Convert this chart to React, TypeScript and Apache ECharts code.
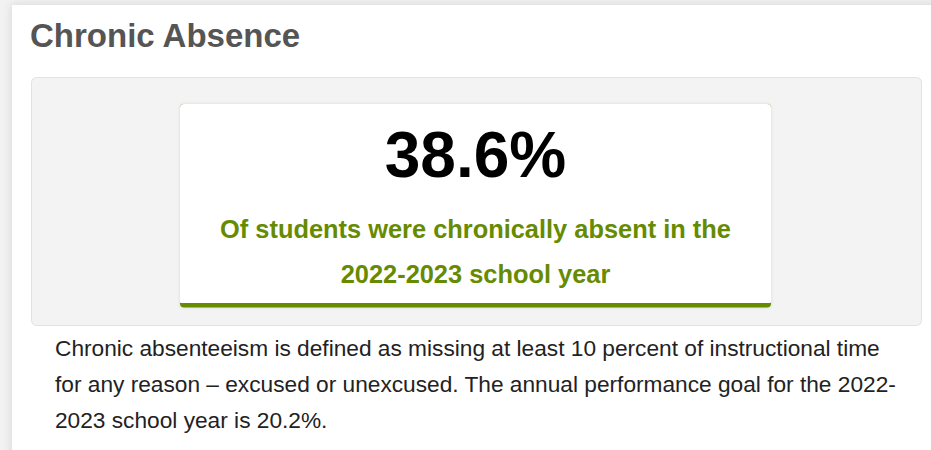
import React, { useEffect, useRef } from "react";
import * as echarts from "echarts";

const sectionTitle = ["Chronic Absence"];
const chronicAbsenceRate = [38.6];
const schoolYear = ["2022-2023"];
const annualGoal = [20.2];
const captionLines = [
  "Of students were chronically absent in the",
  `${schoolYear[0]} school year`,
];
const noteLines = [
  "Chronic absenteeism is defined as missing at least 10 percent of instructional time",
  `for any reason \u2013 excused or unexcused. The annual performance goal for the ${schoolYear[0].split("-")[0]}-`,
  `${schoolYear[0].split("-")[1]} school year is ${annualGoal[0].toFixed(1)}%.`,
];

const FONT = "'Liberation Sans', Arial, sans-serif";
const GREEN = "#668b00";

export default function App() {
  const ref = useRef<HTMLDivElement>(null);
  useEffect(() => {
    if (!ref.current) return;
    const chart = echarts.init(ref.current, null, { renderer: "svg" });
    const graphics: any[] = [
      {
        type: "rect",
        shape: { x: 12, y: 5, width: 960, height: 480 },
        style: { fill: "#ffffff", shadowBlur: 10, shadowColor: "rgba(0,0,0,0.13)" },
        z: 1,
      },
      {
        type: "text",
        style: {
          x: 30,
          y: 35,
          text: sectionTitle[0],
          font: `bold 33px ${FONT}`,
          fill: "#555555",
          textAlign: "left",
          textVerticalAlign: "middle",
        },
        z: 5,
      },
      {
        type: "rect",
        shape: { x: 31.5, y: 77.5, width: 890, height: 248, r: 5 },
        style: { fill: "#f3f3f3", stroke: "#e2e2e2", lineWidth: 1 },
        z: 2,
      },
      {
        type: "rect",
        shape: { x: 180, y: 104, width: 591, height: 203.5, r: 4 },
        style: { fill: GREEN, shadowBlur: 3, shadowColor: "rgba(0,0,0,0.12)" },
        z: 3,
      },
      {
        type: "rect",
        shape: { x: 180, y: 104, width: 591, height: 199, r: [4, 4, 1, 1] },
        style: { fill: "#ffffff" },
        z: 4,
      },
      {
        type: "text",
        style: {
          x: 475.5,
          y: 155,
          text: `${chronicAbsenceRate[0].toFixed(1)}%`,
          font: `bold 64px ${FONT}`,
          fill: "#000000",
          textAlign: "center",
          textVerticalAlign: "middle",
        },
        z: 5,
      },
      ...captionLines.map((t, i) => ({
        type: "text",
        style: {
          x: 475.5,
          y: 229 + i * 45,
          text: t,
          font: `bold 25.4px ${FONT}`,
          fill: GREEN,
          textAlign: "center",
          textVerticalAlign: "middle",
        },
        z: 5,
      })),
      ...noteLines.map((t, i) => ({
        type: "text",
        style: {
          x: 55,
          y: 348 + i * 36,
          text: t,
          font: `22.7px ${FONT}`,
          fill: "#222222",
          textAlign: "left",
          textVerticalAlign: "middle",
        },
        z: 5,
      })),
    ];
    chart.setOption({
      animation: false,
      backgroundColor: "#f2f2f2",
      graphic: graphics,
    });
    return () => chart.dispose();
  }, []);
  return (
    <div
      ref={ref}
      style={{ position: "fixed", left: 0, top: 0, width: 931, height: 450 }}
    />
  );
}
